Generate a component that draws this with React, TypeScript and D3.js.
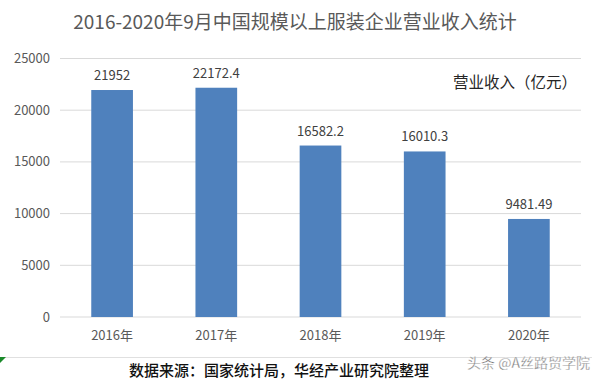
import React from "react";
import * as d3 from "d3";

const categories = ["2016年", "2017年", "2018年", "2019年", "2020年"];
const revenue = [21952, 22172.4, 16582.2, 16010.3, 9481.49];
const revenueLabels = ["21952", "22172.4", "16582.2", "16010.3", "9481.49"];
const yTicks = [0, 5000, 10000, 15000, 20000, 25000];

const title = "2016-2020年9月中国规模以上服装企业营业收入统计";
const unitLabel = "营业收入（亿元）";
const sourceText = "数据来源：国家统计局，华经产业研究院整理";
const watermark = "头条 @A丝路贸学院";

const W = 592;
const H = 380;
const FONT = "'Noto Sans CJK SC', 'Noto Sans', sans-serif";

export default function App() {
  const x = d3
    .scaleBand<string>()
    .domain(categories)
    .range([60, 581])
    .paddingInner(0.6)
    .paddingOuter(0.3);
  const y = d3.scaleLinear().domain([0, 25000]).range([317, 58.5]);

  return (
    <svg
      width={W}
      height={H}
      style={{ position: "absolute", left: 0, top: 0, background: "#fff" }}
      fontFamily={FONT}
    >
      <rect x={0} y={0} width={W} height={H} fill="#fff" />
      <text x={295} y={29} textAnchor="middle" fontSize={19} fill="#595959">
        {title}
      </text>
      {yTicks.map((t) => (
        <g key={t}>
          <line x1={60} x2={581} y1={y(t)} y2={y(t)} stroke="#d9d9d9" strokeWidth={1} />
          <text
            x={50}
            y={y(t)}
            dy="0.35em"
            textAnchor="end"
            fontSize={13}
            fill="#595959"
          >
            {t}
          </text>
        </g>
      ))}
      {categories.map((c, i) => (
        <g key={c}>
          <rect
            x={x(c)}
            y={y(revenue[i])}
            width={x.bandwidth()}
            height={y(0) - y(revenue[i])}
            fill="#4f81bd"
          />
          <text
            x={(x(c) as number) + x.bandwidth() / 2}
            y={y(revenue[i]) - 10}
            textAnchor="middle"
            fontSize={13}
            fill="#404040"
          >
            {revenueLabels[i]}
          </text>
          <text
            x={(x(c) as number) + x.bandwidth() / 2}
            y={335}
            dy="0.35em"
            textAnchor="middle"
            fontSize={13}
            fill="#595959"
          >
            {c}
          </text>
        </g>
      ))}
      <text x={577} y={83} dy="0.35em" textAnchor="end" fontSize={15.5} fill="#262626">
        {unitLabel}
      </text>
      <line x1={0} x2={592} y1={357.5} y2={357.5} stroke="#e0e0e0" strokeWidth={1} />
      <polygon points="0,357 6,357 0,363" fill="#1a8a2a" />
      <text
        x={279}
        y={371}
        dy="0.35em"
        textAnchor="middle"
        fontSize={15}
        fontWeight={500}
        fill="#111"
      >
        {sourceText}
      </text>
      <text
        x={590}
        y={363}
        dy="0.35em"
        textAnchor="end"
        fontSize={14}
        fill="#777"
        stroke="#fff"
        strokeWidth={0.3}
      >
        {watermark}
      </text>
    </svg>
  );
}
